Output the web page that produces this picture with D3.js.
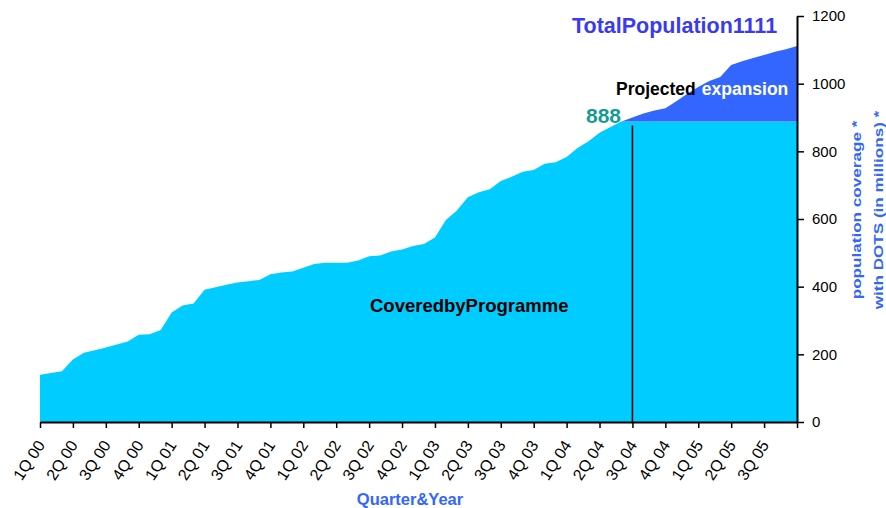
<!DOCTYPE html>
<html>
<head>
<meta charset="utf-8">
<script src="https://cdn.jsdelivr.net/npm/d3@7"></script>
<style>
  body { margin: 0; background: #fff; }
  svg { display: block; font-family: "Liberation Sans", Arial, sans-serif; }
</style>
</head>
<body>
<svg width="886" height="508"></svg>
<script>
// quarter labels on the x axis, one per 3 months
var quarters = ["1Q 00", "2Q 00", "3Q 00", "4Q 00", "1Q 01", "2Q 01", "3Q 01", "4Q 01",
    "1Q 02", "2Q 02", "3Q 02", "4Q 02", "1Q 03", "2Q 03", "3Q 03", "4Q 03",
    "1Q 04", "2Q 04", "3Q 04", "4Q 04", "1Q 05", "2Q 05", "3Q 05"];

// monthly population covered by programme (millions), month 0 .. 69
var covered = [140, 145, 150, 185, 205, 212, 220, 229, 238, 258,
    259, 272, 324, 344, 350, 391, 398, 406, 412, 416,
    420, 437, 442, 445, 456, 467, 471, 471, 471, 477,
    490, 492, 504, 510, 520, 526, 545, 597, 625, 664,
    679, 688, 712, 725, 740, 745, 763, 768, 783, 810,
    830, 855, 872, 888, 888, 888, 888, 888, 888, 888,
    888, 888, 888, 888, 888, 888, 888, 888, 888, 888];

// projected total population, from month 53 to 69
var projStart = 53;
var projected = [888, 900, 912, 921, 927, 948, 970, 990, 1008, 1020,
    1055, 1066, 1076, 1085, 1094, 1102, 1111];

var yTicks = [0, 200, 400, 600, 800, 1000, 1200];
var milestoneMonth = 54;
var milestoneValue = 888;
var totalValue = 1111;

var svg = d3.select("svg");

var x = d3.scaleLinear([0, covered.length - 1], [40, 797]);
var y = d3.scaleLinear([0, 1200], [422, 16]);

var coveredArea = d3.area()
    .x(function(d, i) { return x(i); })
    .y0(y(0))
    .y1(function(d) { return y(d); });

svg.append("path")
    .datum(covered)
    .attr("fill", "#00ccff")
    .attr("d", coveredArea);

var projArea = d3.area()
    .x(function(d, i) { return x(projStart + i); })
    .y0(function(d, i) { return y(covered[projStart + i]); })
    .y1(function(d) { return y(d); });

svg.append("path")
    .datum(projected)
    .attr("fill", "#3366ff")
    .attr("d", projArea);

// milestone line
svg.append("line")
    .attr("x1", x(milestoneMonth)).attr("x2", x(milestoneMonth))
    .attr("y1", y(0)).attr("y2", y(milestoneValue) + 4)
    .attr("stroke", "#000")
    .attr("stroke-width", 1.5);

// x axis
var xAxis = d3.axisBottom(x)
    .tickValues(d3.range(0, covered.length, 3))
    .tickSize(6)
    .tickSizeOuter(0)
    .tickFormat(function(d) { return quarters[d / 3] || ""; });

var gx = svg.append("g")
    .attr("transform", "translate(0," + y(0) + ")")
    .call(xAxis);
gx.select(".domain").attr("stroke-width", 2);
gx.selectAll(".tick line").attr("stroke-width", 1.5);
gx.selectAll("text")
    .attr("y", 0).attr("x", 0).attr("dy", 0)
    .attr("transform", "translate(5,23) rotate(-57)")
    .style("text-anchor", "end")
    .style("font-size", "16px")
    .style("font-family", "Liberation Sans, Arial, sans-serif")
    .attr("fill", "#000");

// y axis on the right
var yAxis = d3.axisRight(y).tickValues(yTicks).tickSize(7).tickSizeOuter(0)
    .tickFormat(d3.format("d"));
var gy = svg.append("g")
    .attr("transform", "translate(" + x(covered.length - 1) + ",0)")
    .call(yAxis);
gy.select(".domain").attr("stroke-width", 2);
gy.selectAll(".tick line").attr("stroke-width", 1.5);
gy.selectAll("text")
    .attr("x", 15)
    .style("font-size", "15px")
    .style("font-family", "Liberation Sans, Arial, sans-serif")
    .attr("fill", "#000");

// y axis title
var yTitle = svg.append("text")
    .attr("transform", "translate(861,210) rotate(-90) scale(1.18,0.9)")
    .attr("text-anchor", "middle")
    .attr("fill", "#3366ff")
    .style("font-weight", "bold")
    .style("font-size", "14.5px");
yTitle.append("tspan").attr("x", 0).attr("y", 0).text("population coverage *");
yTitle.append("tspan").attr("x", 0).attr("y", 24).text("with DOTS  (in millions) *");

// x axis title
svg.append("text")
    .attr("x", 410).attr("y", 505)
    .attr("text-anchor", "middle")
    .attr("fill", "#3366ff")
    .style("font-weight", "bold")
    .style("font-size", "16.5px")
    .text("Quarter&Year");

// annotations
svg.append("text")
    .attr("x", 572).attr("y", 33)
    .attr("fill", "#3a3af0")
    .style("font-weight", "bold")
    .style("font-size", "21.5px")
    .text("TotalPopulation" + totalValue);

var proj = svg.append("text")
    .attr("x", 616).attr("y", 95)
    .style("font-weight", "bold")
    .style("font-size", "17.5px");
proj.append("tspan").attr("fill", "#000").text("Projected");
proj.append("tspan").attr("fill", "#fff").attr("dx", 6).text("expansion");

svg.append("text")
    .attr("x", 586).attr("y", 123)
    .attr("fill", "#149c94")
    .style("font-weight", "bold")
    .style("font-size", "21px")
    .text(milestoneValue);

svg.append("text")
    .attr("x", 370).attr("y", 312)
    .attr("fill", "#000")
    .style("font-weight", "bold")
    .style("font-size", "18.5px")
    .text("CoveredbyProgramme");
</script>
</body>
</html>
